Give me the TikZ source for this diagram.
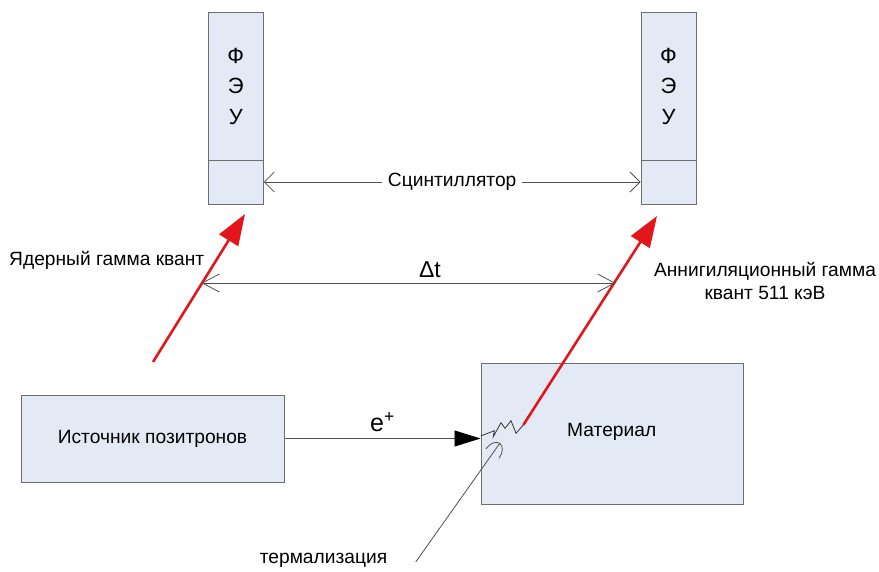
\documentclass[tikz,border=0pt]{standalone}
\usepackage{fontspec}
\setmainfont{Liberation Sans}
\usetikzlibrary{arrows.meta}

\definecolor{boxfill}{HTML}{E4EAF5}
\definecolor{boxline}{HTML}{6E6E6E}
\definecolor{gred}{HTML}{E3161C}
\definecolor{leadcol}{HTML}{505050}

\tikzset{
  panel/.style={draw=boxline, fill=boxfill, line width=1pt, inner sep=0pt},
  lbl/.style={font=\fontsize{19.2}{22}\selectfont, text=black, inner sep=0pt},
  tubetext/.style={align=center, font=\fontsize{22}{30.5}\selectfont},
  leader/.style={draw=leadcol, line width=0.8pt},
  gamma/.style={draw=gred, line width=2.6pt, -{Triangle[length=31pt,width=22pt]}},
}

\begin{document}
\begin{tikzpicture}[x=1pt,y=-1pt]
\useasboundingbox (0,0) rectangle (879,571);

% photomultipliers with their scintillators
\node[panel, minimum width=55pt, minimum height=148pt, tubetext] (pmtL) at (235.8,86) {Ф\\Э\\У};
\node[panel, minimum width=55pt, minimum height=44pt] (scL) at (235.8,182) {};
\node[panel, minimum width=55pt, minimum height=148pt, tubetext] (pmtR) at (668.5,86) {Ф\\Э\\У};
\node[panel, minimum width=55pt, minimum height=44pt] (scR) at (668.5,182) {};

% source and sample
\node[panel, minimum width=263pt, minimum height=87pt, lbl] (src) at (152.5,438.5) {Источник позитронов};
\node[panel, minimum width=262pt, minimum height=141pt] (mat) at (612,433.5) {};
\node[lbl] (matlbl) at (611.7,431.7) {Материал};

% scintillator distance
\draw[leader, {Straight Barb[length=10pt,width=20pt]}-{Straight Barb[length=10pt,width=20pt]}]
  (scL.east) -- node[fill=white, lbl, inner xsep=6pt, inner ysep=2pt] (scin) {Сцинтиллятор} (scR.west);

% positron beam
\draw[leader, -{Triangle[length=26pt,width=16pt,color=black]}]
  (src.east) -- node[lbl, font=\fontsize{25}{28}\selectfont, above=6pt] (epos) {e\textsuperscript{+}} (src.east -| mat.west);

% thermalisation track inside the material
\coordinate (z0) at (480.7,436);
\coordinate (z1) at (494.3,430.7);
\coordinate (z2) at (493.3,436.7);
\coordinate (z3) at (501,422.7);
\coordinate (z4) at (505,428.3);
\coordinate (z5) at (511,420.7);
\coordinate (z6) at (516,433.3);
\coordinate (z7) at (523.3,425);
\draw[draw=black!80, line width=0.8pt, line join=miter]
  (z0) -- (z1) -- (z2) -- (z3) -- (z4) -- (z5) -- (z6) -- (z7);

% gamma quanta
\coordinate (gL0) at (153,362);
\coordinate (gL1) at (245,214);
\draw[gamma] (gL0) -- (gL1);
\coordinate (gR1) at (657,216);
\draw[gamma] (z7) -- (gR1);

% time difference
\coordinate (dL) at (201.5,283);
\coordinate (dR) at (615.5,283);
\draw[leader, {Straight Barb[length=17pt,width=18pt]}-{Straight Barb[length=17pt,width=18pt]}] (dL) -- (dR);
\node[lbl, font=\fontsize{23}{26}\selectfont] (dt) at (430,269.5) {Δt};

% labels
\node[lbl, anchor=west] (nuc) at (9,260.7) {Ядерный гамма квант};
\node[lbl, align=center, font=\fontsize{19.2}{23.5}\selectfont] (ann) at (765,281) {Аннигиляционный гамма\\квант 511 кэВ};

% thermalisation pointer
\node[lbl] (term) at (323.5,560) {термализация};
\coordinate (t0) at (415.7,562);
\coordinate (t1) at (500,443);
\draw[leader, -{Arc Barb[length=13pt,width=17pt]}] (t0) -- (t1);
\end{tikzpicture}
\end{document}
